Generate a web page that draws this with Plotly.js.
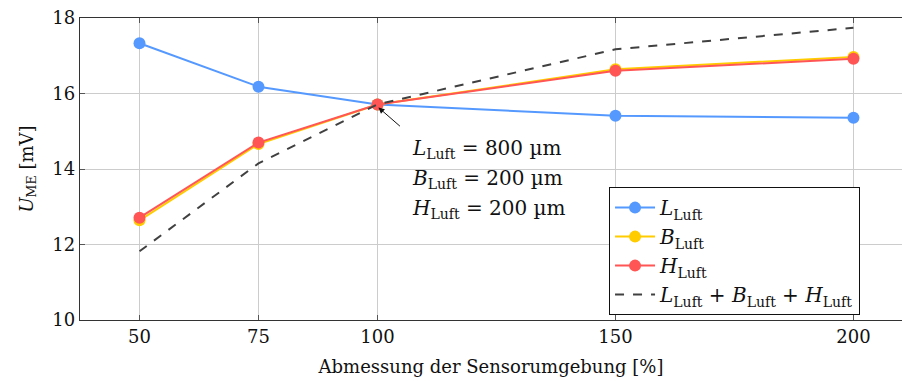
<!DOCTYPE html>
<html>
<head>
<meta charset="utf-8">
<script src="https://cdn.plot.ly/plotly-3.0.1.min.js"></script>
<style>html,body{margin:0;padding:0;background:#fff;}</style>
</head>
<body>
<div id="chart" style="width:902px;height:381px;"></div>
<script>
const xVals = [50, 75, 100, 150, 200];
const lLuft = [17.33, 16.18, 15.71, 15.41, 15.36];
const bLuft = [12.64, 14.66, 15.71, 16.64, 16.97];
const hLuft = [12.71, 14.70, 15.71, 16.60, 16.92];
const sumLuft = [11.82, 14.15, 15.71, 17.17, 17.74];
const xTicks = [50, 75, 100, 150, 200];
const yTicks = [10, 12, 14, 16, 18];

const FONT = "DejaVu Serif";

const traces = [
  {x: xVals, y: lLuft, mode: 'lines+markers', name: '<i>L</i><sub>Luft</sub>',
   line: {color: '#5599ff', width: 2}, marker: {color: '#5599ff', size: 12}},
  {x: xVals, y: bLuft, mode: 'lines+markers', name: '<i>B</i><sub>Luft</sub>',
   line: {color: '#ffcc00', width: 2}, marker: {color: '#ffcc00', size: 12}},
  {x: xVals, y: hLuft, mode: 'lines+markers', name: '<i>H</i><sub>Luft</sub>',
   line: {color: '#ff5555', width: 2}, marker: {color: '#ff5555', size: 12}},
  {x: xVals, y: sumLuft, mode: 'lines', name: '<i>L</i><sub>Luft</sub> + <i>B</i><sub>Luft</sub> + <i>H</i><sub>Luft</sub>',
   line: {color: '#404040', width: 2, dash: 'dash'}}
];

const layout = {
  width: 902, height: 381,
  margin: {l: 80, r: 0, t: 18, b: 61},
  paper_bgcolor: '#fff', plot_bgcolor: '#fff',
  font: {family: FONT, size: 18, color: '#111'},
  showlegend: true,
  legend: {x: 0.6436, y: 0.44, xanchor: 'left', yanchor: 'top',
           bgcolor: '#fff', bordercolor: '#111', borderwidth: 1,
           font: {family: FONT, size: 20, color: '#111'},
           itemwidth: 40, tracegroupgap: 0},
  xaxis: {
    range: [37.5, 210.2], tickvals: xTicks, ticktext: xTicks.map(String),
    showgrid: true, gridcolor: '#cccccc', gridwidth: 1,
    showline: true, linecolor: '#333', linewidth: 1.3, mirror: 'ticks',
    ticks: 'inside', ticklen: 5, tickcolor: '#555',
    zeroline: false,
    tickfont: {family: FONT, size: 18},
    title: {text: 'Abmessung der Sensorumgebung [%]', font: {family: FONT, size: 18}, standoff: 14}
  },
  yaxis: {
    range: [10, 18], tickvals: yTicks, ticktext: yTicks.map(String),
    showgrid: true, gridcolor: '#cccccc', gridwidth: 1,
    showline: true, linecolor: '#333', linewidth: 1.3,
    ticks: 'inside', ticklen: 5, tickcolor: '#555',
    zeroline: false,
    tickfont: {family: FONT, size: 18},
    title: {text: '<i>U</i><sub>ME</sub> [mV]', font: {family: FONT, size: 18}, standoff: 14}
  },
  annotations: [
    {x: 100.2, y: 15.63, xref: 'x', yref: 'y', text: '', showarrow: true,
     arrowhead: 2, arrowsize: 1.2, arrowwidth: 1, arrowcolor: '#111',
     ax: 23, ay: 20},
    {x: 106.8, y: 14.53, xref: 'x', yref: 'y', xanchor: 'left', yanchor: 'middle',
     text: '<i>L</i><sub>Luft</sub> = 800 µm', showarrow: false, font: {family: FONT, size: 20}},
    {x: 106.8, y: 13.73, xref: 'x', yref: 'y', xanchor: 'left', yanchor: 'middle',
     text: '<i>B</i><sub>Luft</sub> = 200 µm', showarrow: false, font: {family: FONT, size: 20}},
    {x: 106.8, y: 12.93, xref: 'x', yref: 'y', xanchor: 'left', yanchor: 'middle',
     text: '<i>H</i><sub>Luft</sub> = 200 µm', showarrow: false, font: {family: FONT, size: 20}}
  ]
};

Plotly.newPlot('chart', traces, layout, {displayModeBar: false, staticPlot: true});
</script>
</body>
</html>
